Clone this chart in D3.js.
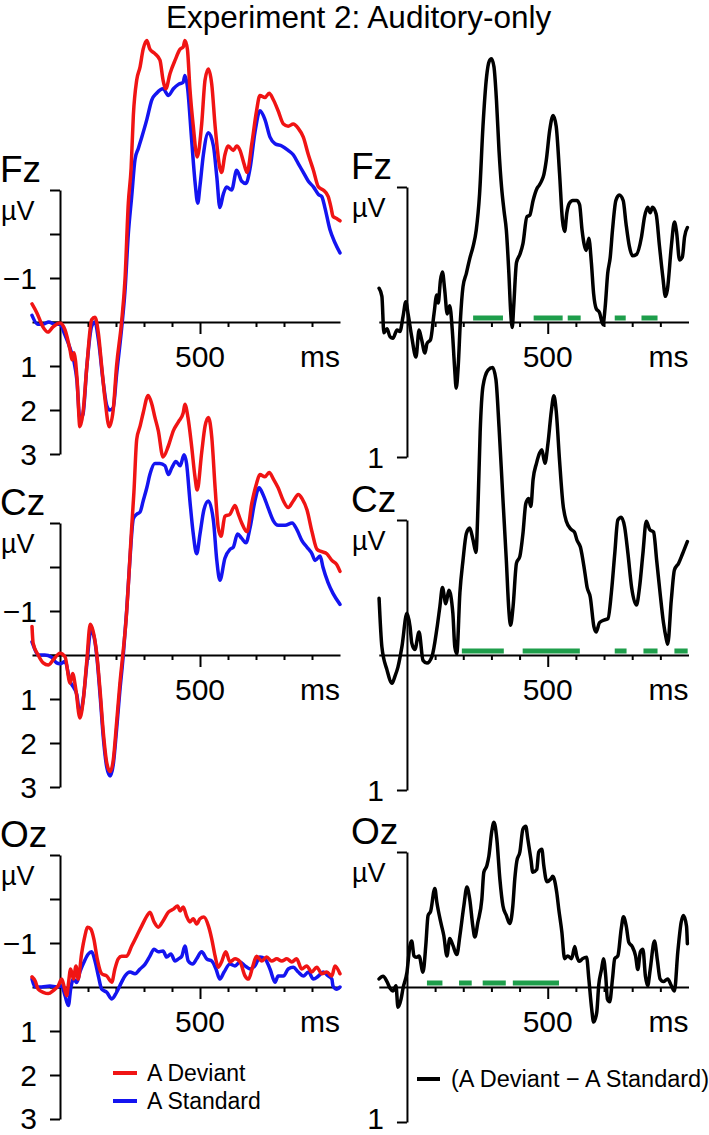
<!DOCTYPE html>
<html><head><meta charset="utf-8">
<script src="https://cdn.jsdelivr.net/npm/d3@7"></script>
<style>
html,body{margin:0;padding:0;background:#fff;}
svg{display:block;font-family:'Liberation Sans',Arial,Helvetica,sans-serif;}
</style></head>
<body><svg id="chart" width="709" height="1135"></svg>
<script>
// ===== DATA (time in ms, amplitude in µV; negative plotted up) =====
const title = "Experiment 2: Auditory-only";
const electrodes = ["Fz", "Cz", "Oz"];
const leftTickValues = [-3, -2, -1, 0, 1, 2, 3];
const leftTickLabels = ["", "", "\u22121", "", "1", "2", "3"];
const rightTickValues = [-1, 1];
const rightTickLabels = ["", "1"];
const timeTicks = [100, 200, 300, 400, 500, 600, 700, 800, 900];
const timeLabel = "500";
const unitLabel = "\u00b5V";
const legendLeft = ["A Deviant", "A Standard"];
const legendRight = "(A Deviant \u2212 A Standard)";

const fzDeviant = [[-100,-0.41],[-82,-0.2],[-61,0.11],[-43,0.23],[-25,0.11],[0,0.02],[18,0.18],[36,0.64],[43,0.86],[50,0.7],[61,1.3],[71,2.38],[82,2.07],[96,1.0],[113,-0.05],[125,-0.11],[137,0.25],[149,1.02],[161,1.77],[176,2.38],[190,2.0],[202,1.0],[220,0],[232,-0.95],[244,-2.7],[254,-3.5],[262,-4.7],[274,-5.5],[286,-5.8],[297,-6.2],[310,-6.4],[321,-6.2],[339,-6.1],[357,-5.95],[368,-5.5],[378,-5.3],[393,-5.65],[411,-5.95],[429,-6.2],[440,-6.25],[446,-6.4],[455,-6.2],[464,-5.3],[476,-4.45],[490,-3.75],[506,-4.5],[518,-5.5],[530,-5.75],[542,-5.4],[554,-4.45],[571,-3.5],[577,-3.4],[589,-3.8],[601,-4.0],[619,-3.9],[631,-4.0],[643,-3.9],[657,-3.6],[668,-3.4],[685,-4.05],[702,-4.8],[714,-5.15],[732,-5.1],[747,-5.2],[762,-5.05],[779,-4.8],[798,-4.5],[815,-4.45],[833,-4.5],[851,-4.4],[869,-4.2],[887,-3.8],[905,-3.45],[923,-3.07],[940,-3.0],[958,-2.85],[968,-2.6],[975,-2.4],[988,-2.35],[1000,-2.3]];
const fzStandard = [[-100,-0.15],[-80,0.05],[-60,0.05],[-40,0.0],[-20,0.05],[0,0.05],[18,0.3],[36,0.6],[50,0.9],[60,1.3],[71,2.2],[82,2.1],[96,1.0],[113,0.1],[125,0.0],[137,0.4],[155,1.4],[167,1.9],[178,2.0],[190,1.95],[202,1.2],[220,0.15],[232,-0.7],[244,-2.0],[256,-2.85],[268,-3.7],[280,-3.95],[292,-4.2],[310,-4.6],[328,-5.05],[345,-5.2],[368,-5.3],[387,-5.15],[405,-5.3],[423,-5.4],[440,-5.45],[446,-5.6],[455,-5.35],[470,-4.15],[482,-3.2],[492,-2.7],[500,-3.1],[512,-3.8],[530,-4.3],[548,-4.0],[560,-3.3],[571,-2.6],[583,-2.9],[595,-3.07],[613,-3.0],[631,-3.45],[649,-3.2],[664,-3.15],[679,-3.5],[696,-4.3],[714,-4.8],[732,-4.6],[750,-4.2],[768,-4.05],[792,-4.0],[815,-3.9],[833,-3.8],[851,-3.6],[869,-3.4],[887,-3.2],[905,-3.07],[923,-2.9],[935,-2.85],[946,-2.6],[964,-2.1],[982,-1.8],[1000,-1.57]];
const fzDiff = [[-99,-0.25],[-89,-0.19],[-82,0.08],[-71,0.05],[-60,0.11],[-50,0.12],[-35,0.06],[-25,0.07],[-14,-0.04],[-4,-0.15],[4,-0.06],[17,0.11],[32,0.26],[43,0.06],[52,0.13],[64,0.23],[71,0.16],[84,0.13],[96,-0.06],[106,-0.2],[111,-0.14],[119,-0.31],[126,-0.37],[134,-0.24],[143,-0.06],[152,-0.12],[161,0.06],[169,0.33],[175,0.49],[182,0.33],[190,-0.02],[199,-0.26],[211,-0.36],[223,-0.47],[235,-0.56],[246,-0.68],[258,-0.95],[270,-1.45],[283,-1.82],[292,-1.93],[300,-1.95],[309,-1.89],[318,-1.64],[327,-1.27],[336,-1.0],[345,-0.82],[353,-0.68],[362,-0.36],[368,-0.09],[374,0.04],[379,-0.11],[389,-0.44],[401,-0.5],[412,-0.58],[426,-0.78],[436,-0.79],[448,-0.9],[462,-0.99],[469,-1.01],[477,-1.04],[486,-1.09],[495,-1.2],[507,-1.42],[519,-1.53],[530,-1.45],[542,-1.1],[552,-0.76],[560,-0.67],[568,-0.81],[577,-0.88],[589,-0.9],[603,-0.9],[613,-0.87],[622,-0.68],[631,-0.56],[637,-0.53],[646,-0.62],[655,-0.44],[663,-0.21],[672,-0.1],[684,-0.07],[696,0.02],[704,-0.11],[713,-0.36],[722,-0.48],[730,-0.68],[742,-0.9],[754,-0.94],[768,-0.9],[778,-0.73],[790,-0.56],[801,-0.49],[815,-0.5],[833,-0.63],[844,-0.78],[855,-0.85],[864,-0.81],[872,-0.85],[885,-0.8],[897,-0.56],[909,-0.33],[918,-0.19],[925,-0.24],[939,-0.56],[950,-0.74],[958,-0.66],[968,-0.46],[978,-0.48],[986,-0.63],[996,-0.7]];
const fzSignificant = [[235,341],[450,553],[571,617],[738,777],[833,890]];

const czDeviant = [[-100,-0.65],[-96,-0.27],[-78,0],[-60,0.18],[-42,0.23],[-24,0.11],[0,-0.04],[18,0.04],[36,0.64],[45,0.42],[57,0.8],[71,1.43],[83,1.03],[96,0.11],[108,-0.7],[118,-0.55],[131,-0.04],[143,0.8],[155,1.78],[167,2.45],[179,2.65],[190,2.4],[202,1.55],[214,0.64],[226,-0.11],[236,-0.8],[246,-1.8],[255,-2.8],[264,-3.7],[274,-4.9],[286,-5.2],[297,-5.5],[315,-5.9],[328,-5.7],[339,-5.4],[351,-5.1],[368,-4.5],[387,-4.75],[405,-5.1],[423,-5.3],[440,-5.5],[446,-5.7],[457,-5.4],[470,-4.75],[482,-4.05],[490,-3.75],[506,-4.6],[518,-5.2],[530,-5.4],[542,-4.95],[554,-3.8],[565,-2.9],[575,-2.7],[589,-3.15],[607,-3.2],[625,-3.4],[637,-3.2],[649,-3.0],[668,-2.8],[685,-3.45],[702,-3.9],[714,-4.1],[732,-4.05],[747,-4.15],[762,-4.0],[779,-3.8],[798,-3.5],[815,-3.35],[833,-3.5],[851,-3.65],[865,-3.55],[882,-3.3],[900,-2.8],[918,-2.4],[935,-2.35],[953,-2.3],[971,-2.15],[989,-2.05],[1000,-1.9]];
const czStandard = [[-100,-0.3],[-96,-0.23],[-78,0],[-55,0],[-30,0.05],[-12,0.18],[0,0.2],[18,0.15],[36,0.6],[50,0.75],[60,0.9],[71,1.35],[83,1.0],[96,0.2],[110,-0.55],[120,-0.45],[131,0],[143,0.9],[155,1.9],[167,2.55],[179,2.75],[190,2.5],[202,1.7],[214,0.8],[226,0.0],[238,-1.0],[250,-2.2],[262,-3.1],[274,-3.2],[286,-3.25],[297,-3.5],[310,-3.8],[321,-4.1],[339,-4.35],[357,-4.35],[375,-4.3],[387,-4.1],[399,-4.25],[414,-4.4],[429,-4.3],[443,-4.55],[452,-4.35],[464,-3.5],[476,-2.75],[488,-2.3],[500,-2.75],[514,-3.3],[530,-3.5],[548,-3.05],[560,-2.15],[571,-1.7],[589,-2.2],[607,-2.4],[619,-2.45],[634,-2.75],[649,-2.65],[664,-2.55],[679,-2.9],[696,-3.5],[711,-3.8],[725,-3.65],[743,-3.35],[762,-3.05],[779,-2.95],[804,-2.95],[829,-3.0],[846,-2.85],[864,-2.6],[882,-2.45],[900,-2.3],[911,-2.15],[929,-2.25],[939,-2.0],[957,-1.65],[975,-1.4],[1000,-1.15]];
const czDiff = [[-99,-0.42],[-89,-0.06],[-71,0.11],[-53,0.21],[-43,0.16],[-32,0.09],[-18,-0.06],[0,-0.31],[11,-0.21],[17,-0.09],[28,-0.04],[43,-0.17],[57,0.04],[71,0.06],[89,0.01],[106,-0.19],[117,-0.36],[126,-0.5],[138,-0.38],[149,-0.48],[163,-0.31],[170,-0.06],[177,-0.01],[188,-0.46],[199,-0.7],[211,-0.9],[223,-0.94],[235,-0.85],[245,-0.76],[253,-1.15],[260,-1.65],[270,-1.99],[288,-2.11],[304,-2.13],[316,-2.04],[327,-1.69],[341,-1.15],[353,-0.7],[362,-0.33],[368,-0.22],[377,-0.36],[389,-0.68],[401,-0.73],[412,-0.9],[422,-1.12],[432,-1.16],[440,-1.1],[448,-1.3],[460,-1.42],[472,-1.5],[479,-1.52],[490,-1.42],[501,-1.57],[513,-1.81],[522,-1.92],[530,-1.81],[542,-1.44],[554,-1.12],[566,-0.99],[583,-0.93],[595,-0.91],[604,-0.85],[616,-0.8],[632,-0.61],[640,-0.5],[651,-0.43],[664,-0.21],[672,-0.17],[684,-0.24],[702,-0.26],[714,-0.27],[726,-0.46],[738,-0.75],[749,-1.0],[761,-1.02],[773,-0.95],[785,-0.75],[798,-0.5],[815,-0.37],[826,-0.5],[838,-0.75],[850,-0.99],[862,-0.93],[876,-0.91],[887,-0.7],[899,-0.46],[911,-0.24],[921,-0.12],[926,-0.08],[939,-0.41],[950,-0.63],[965,-0.68],[979,-0.75],[996,-0.84]];
const czSignificant = [[195,344],[411,614],[738,780],[840,890],[950,997]];

const ozDeviant = [[-100,-0.23],[-89,-0.14],[-78,0.05],[-60,0.12],[-42,0.15],[-24,0.08],[-6,-0.03],[6,-0.18],[15,0.0],[24,0.2],[30,-0.07],[38,-0.41],[48,-0.18],[57,-0.48],[65,-0.18],[77,-0.75],[89,-1.16],[98,-1.36],[110,-1.32],[121,-1.09],[133,-0.64],[149,-0.3],[167,-0.25],[185,-0.11],[196,-0.41],[208,-0.64],[220,-0.7],[238,-0.7],[256,-0.93],[274,-1.16],[292,-1.39],[310,-1.61],[321,-1.7],[336,-1.48],[351,-1.36],[368,-1.5],[387,-1.7],[405,-1.77],[420,-1.84],[429,-1.73],[440,-1.82],[452,-1.61],[464,-1.48],[476,-1.55],[488,-1.43],[500,-1.55],[514,-1.59],[530,-1.39],[542,-1.09],[554,-0.7],[565,-0.45],[577,-0.57],[592,-0.8],[607,-0.57],[625,-0.64],[643,-0.57],[661,-0.25],[673,-0.18],[689,-0.48],[702,-0.7],[720,-0.59],[738,-0.68],[756,-0.59],[774,-0.64],[792,-0.59],[810,-0.64],[828,-0.57],[845,-0.64],[863,-0.41],[881,-0.48],[899,-0.34],[917,-0.45],[935,-0.3],[953,-0.34],[971,-0.25],[982,-0.48],[1000,-0.3]];
const ozStandard = [[-100,-0.18],[-89,0.0],[-66,0],[-36,-0.02],[-12,0.0],[6,-0.02],[18,0.2],[30,0.42],[38,0.05],[48,-0.18],[60,-0.1],[71,-0.34],[86,-0.57],[101,-0.75],[113,-0.8],[125,-0.59],[137,-0.25],[149,0.05],[167,0.12],[185,0.27],[202,0.12],[220,-0.11],[232,-0.25],[250,-0.34],[268,-0.3],[286,-0.41],[304,-0.52],[321,-0.7],[336,-0.86],[351,-0.8],[368,-0.82],[381,-0.68],[396,-0.75],[411,-0.59],[423,-0.64],[435,-0.7],[446,-0.93],[458,-0.59],[474,-0.52],[488,-0.64],[506,-0.8],[524,-0.64],[542,-0.59],[557,-0.41],[571,-0.18],[586,-0.34],[607,-0.52],[625,-0.48],[643,-0.57],[661,-0.48],[679,-0.41],[696,-0.48],[714,-0.68],[732,-0.64],[750,-0.41],[768,-0.11],[779,-0.25],[798,-0.25],[815,-0.41],[833,-0.45],[851,-0.34],[869,-0.25],[887,-0.34],[905,-0.18],[923,-0.25],[940,-0.34],[958,-0.25],[971,-0.18],[975,-0.02],[989,0.05],[1000,0.0]];
const ozDiff = [[-99,-0.06],[-85,-0.08],[-71,-0.04],[-60,0.01],[-50,0.03],[-39,-0.01],[-32,0.15],[-21,0.09],[-14,0.01],[0,-0.11],[11,-0.31],[17,-0.34],[25,-0.23],[35,-0.22],[43,-0.23],[57,-0.11],[67,-0.31],[75,-0.53],[84,-0.56],[99,-0.73],[106,-0.63],[120,-0.48],[131,-0.38],[142,-0.23],[152,-0.36],[163,-0.31],[177,-0.24],[188,-0.38],[202,-0.6],[213,-0.74],[223,-0.65],[234,-0.45],[241,-0.37],[252,-0.48],[266,-0.65],[273,-0.85],[284,-0.9],[291,-0.97],[301,-1.15],[309,-1.22],[319,-1.1],[330,-0.8],[341,-0.6],[353,-0.53],[365,-0.47],[376,-0.6],[383,-0.8],[390,-0.93],[401,-1.0],[412,-1.17],[422,-1.19],[429,-1.1],[440,-0.95],[447,-0.85],[461,-0.87],[468,-1.0],[479,-1.02],[486,-0.9],[497,-0.78],[511,-0.8],[518,-0.82],[532,-0.7],[539,-0.58],[550,-0.41],[560,-0.21],[571,-0.23],[585,-0.21],[596,-0.3],[603,-0.23],[613,-0.19],[624,-0.21],[638,-0.22],[646,-0.06],[656,0.16],[663,0.26],[674,0.19],[681,-0.01],[691,-0.13],[698,-0.21],[706,-0.08],[712,0.09],[720,0.11],[730,-0.06],[738,-0.21],[749,-0.23],[761,-0.43],[769,-0.52],[779,-0.45],[788,-0.33],[800,-0.3],[812,-0.23],[820,-0.13],[829,-0.26],[838,-0.28],[847,-0.08],[855,-0.01],[864,-0.13],[879,-0.34],[890,-0.19],[899,-0.06],[911,-0.04],[926,-0.06],[939,-0.01],[950,0.03],[962,-0.26],[974,-0.48],[982,-0.53],[993,-0.45],[996,-0.32]];
const ozSignificant = [[71,126],[185,230],[269,351],[376,540]];

// ===== LAYOUT / STYLE =====
const RED = "#f01414", BLUE = "#1414f0", GREEN = "#1e9e4b", BLACK = "#000";
const FONT = "'Liberation Sans',Arial,Helvetica,sans-serif";
const H = 1135;
const svg = d3.select("#chart");

const rowZero = [322, 655, 987];
const leftSeries = [[fzStandard, fzDeviant], [czStandard, czDeviant], [ozStandard, ozDeviant]];
const rightSeries = [fzDiff, czDiff, ozDiff];
const sigSeries = [fzSignificant, czSignificant, ozSignificant];

svg.append("text").attr("x", 166).attr("y", 28).attr("font-size", 31.5).attr("fill", BLACK)
  .text(title);

const xLeft = d3.scaleLinear().domain([-100, 1000]).range([32, 340]);
const xRight = d3.scaleLinear().domain([-100, 1000]).range([378.8, 688.5]);

function drawPanel(g, x, y, yTickVals, yTickLabs, name, labelX, series, colors, sig) {
  if (sig) {
    g.selectAll("rect.sig").data(sig).join("rect").attr("class", "sig")
      .attr("x", d => x(d[0])).attr("width", d => x(d[1]) - x(d[0]))
      .attr("y", y(0) - 6.5).attr("height", 5).attr("fill", GREEN);
  }
  const xa = g.append("g").attr("transform", `translate(0,${y(0)})`)
    .call(d3.axisBottom(x).tickValues(timeTicks).tickSize(5).tickSizeOuter(0).tickFormat(() => ""));
  xa.select(".domain").attr("stroke-width", 2);
  xa.selectAll(".tick line").attr("stroke-width", 2).attr("y2", d => d === 500 ? 12 : 5);
  g.append("text").attr("x", x(500)).attr("y", y(0) + 45).attr("text-anchor", "middle")
    .attr("font-size", 30).text(timeLabel);
  g.append("text").attr("x", x(1000)).attr("y", y(0) + 45).attr("text-anchor", "end")
    .attr("font-size", 30).text("ms");
  const ya = g.append("g").attr("transform", `translate(${x(0)},0)`)
    .call(d3.axisLeft(y).tickValues(yTickVals).tickSize(10).tickSizeOuter(0).tickPadding(13)
      .tickFormat((d, i) => yTickLabs[i]));
  ya.select(".domain").attr("stroke-width", 2);
  ya.selectAll(".tick line").attr("stroke-width", 2);
  // keep labels inside the picture (baseline + descent must stay above the bottom edge)
  ya.selectAll(".tick text").attr("font-size", 30).attr("font-family", FONT)
    .attr("dy", d => Math.min(10, H - 7 - y(d)) + "px");
  const yTop = y(yTickVals[0]);
  g.append("text").attr("x", labelX).attr("y", yTop - 8).attr("font-size", 37).text(name);
  g.append("text").attr("x", labelX + 1).attr("y", yTop + 30).attr("font-size", 27).text(unitLabel);
  const line = d3.line().x(d => x(d[0])).y(d => y(d[1])).curve(d3.curveMonotoneX);
  series.forEach((s, i) => {
    g.append("path").datum(s).attr("d", line).attr("fill", "none")
      .attr("stroke", colors[i]).attr("stroke-width", 3.5)
      .attr("stroke-linejoin", "round").attr("stroke-linecap", "round");
  });
}

electrodes.forEach((name, r) => {
  const z = rowZero[r];
  const yL = d3.scaleLinear().domain([-3, 3]).range([z - 132, z + 132]);
  const yR = d3.scaleLinear().domain([-1, 1]).range([z - 135, z + 135]);
  drawPanel(svg.append("g"), xLeft, yL, leftTickValues, leftTickLabels, name, 0,
    leftSeries[r], [BLUE, RED], null);
  drawPanel(svg.append("g"), xRight, yR, rightTickValues, rightTickLabels, name, 351,
    [rightSeries[r]], [BLACK], sigSeries[r]);
});

const lg = svg.append("g");
[[RED, 1073], [BLUE, 1101]].forEach((c, i) => {
  lg.append("line").attr("x1", 113).attr("x2", 137).attr("y1", c[1]).attr("y2", c[1])
    .attr("stroke", c[0]).attr("stroke-width", 4);
  lg.append("text").attr("x", 147).attr("y", c[1] + 8).attr("font-size", 23).text(legendLeft[i]);
});
lg.append("line").attr("x1", 417).attr("x2", 440).attr("y1", 1079).attr("y2", 1079)
  .attr("stroke", BLACK).attr("stroke-width", 4);
lg.append("text").attr("x", 451).attr("y", 1087).attr("font-size", 23.5).text(legendRight);
</script></body></html>
